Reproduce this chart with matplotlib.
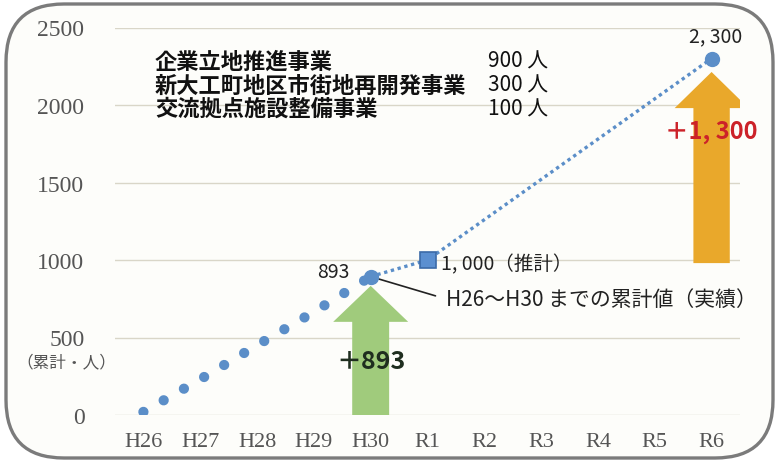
import matplotlib
matplotlib.use("Agg")
import matplotlib.pyplot as plt
from matplotlib.patches import FancyBboxPatch, FancyArrow
from matplotlib.transforms import IdentityTransform

plt.rcParams['font.family'] = ['Noto Sans CJK JP', 'DejaVu Sans']

# ---- data ----
years = ['H26', 'H27', 'H28', 'H29', 'H30', 'R1', 'R2', 'R3', 'R4', 'R5', 'R6']
actual_years = ['H26', 'H27', 'H28', 'H29', 'H30']
actual_values = [20, 230, 450, 665, 893]
plan_years = ['H30', 'R1', 'R6']
plan_values = [893, 1000, 2300]
projects = ['企業立地推進事業', '新大工町地区市街地再開発事業', '交流拠点施設整備事業']
project_people = [900, 300, 100]
y_ticks = [0, 500, 1000, 1500, 2000, 2500]
y_tick_labels = ['0', '500', '1000', '1500', '2000', '2500']

W, H = 776, 464
fig = plt.figure(figsize=(W / 100, H / 100), dpi=100)
fig.patch.set_facecolor('white')

# rounded frame
frame = FancyBboxPatch((6, 5), 767, 454, boxstyle="round,pad=0,rounding_size=58",
                       transform=IdentityTransform(), facecolor='#fdfdfa',
                       edgecolor='#7b7b7b', linewidth=2.4, zorder=-5)
fig.patches.append(frame)

ax = fig.add_axes([115 / W, 1 - 416 / H, (740 - 115) / W, (416 - 28.5) / H])
ax.set_facecolor('none')
for s in ax.spines.values():
    s.set_visible(False)

xi = {y: i for i, y in enumerate(years)}
ax_x = [xi[y] for y in actual_years]
pl_x = [xi[y] for y in plan_years]

ax.set_xlim(-0.5, len(years) - 0.5)
ax.set_ylim(0, 2500)
ax.set_yticks(y_ticks)
ax.set_yticklabels(y_tick_labels, family='Liberation Serif', fontsize=17, color='#555555')
ax.set_xticks(range(len(years)))
ax.set_xticklabels(years, family='Liberation Serif', fontsize=16, color='#555555')
ax.tick_params(axis='both', length=0)
ax.tick_params(axis='y', pad=22)
ax.tick_params(axis='x', pad=12)
ax.grid(axis='y', color='#d9d6c8', linewidth=1.0)
ax.set_axisbelow(True)

blue = '#5b8ec8'

# arrows
green_tip = actual_values[-1] - 60
ax.add_patch(FancyArrow(xi['H30'], 0, 0, green_tip, width=0.65, head_width=1.32,
                        head_length=232, length_includes_head=True,
                        color='#a0cb7c', zorder=2, linewidth=0))
orange_tip = plan_values[-1] - 87
orange_base = plan_values[1] - 20
ax.add_patch(FancyArrow(xi['R6'], orange_base, 0, orange_tip - orange_base, width=0.64,
                        head_width=1.3, head_length=233, length_includes_head=True,
                        color='#e9a82b', zorder=2, linewidth=0))

# actual line (big dots)
ax.plot(ax_x, actual_values, color=blue, linewidth=7.4, linestyle=(0, (0.001, 2.27)),
        dash_capstyle='round', zorder=3)
# plan line (small dots)
ax.plot(pl_x, plan_values, color=blue, linewidth=2.4, linestyle=(0, (1, 1.1)),
        dash_capstyle='butt', zorder=3)
ax.plot([xi['H30'], xi['R6']], [actual_values[-1], plan_values[-1]], 'o',
        color=blue, markersize=10, zorder=4)
ax.plot([xi['R1']], [plan_values[1]], 's', markerfacecolor='#5b8fd0',
        markeredgecolor='#3b6aa8', markeredgewidth=1.2, markersize=11, zorder=4)

# labels
ax.annotate(f"{actual_values[-1]}", (xi['H30'], actual_values[-1]), xytext=(-27, 4),
            textcoords='offset points', ha='center', va='center', fontsize=14,
            color='#222222')
ax.annotate(f"{plan_values[-1]:,}".replace(',', ', '), (xi['R6'], plan_values[-1]),
            xytext=(3, 16), textcoords='offset points', ha='center', va='center',
            fontsize=14, color='#222222')
ax.annotate(f"{plan_values[1]:,}".replace(',', ', ') + '（推計）', (xi['R1'], plan_values[1]),
            xytext=(10, -3), textcoords='offset points', ha='left', va='center',
            fontsize=14, color='#222222')
ax.annotate('H26～H30 までの累計値（実績）', (xi['H30'], actual_values[-1]),
            xytext=(5.33, 748), textcoords='data', ha='left', va='center',
            fontsize=15, color='#222222',
            arrowprops=dict(arrowstyle='-', color='#222222', lw=1.2,
                            relpos=(0, 0.5), shrinkA=6, shrinkB=6))

ax.text(xi['H30'], 350, f"＋{actual_values[-1]}", ha='center', va='center',
        fontsize=18, fontweight='bold', color='#1f2e1f', zorder=5)
ax.text(xi['R6'], 1832, f"＋{plan_values[-1] - plan_values[1]:,}".replace(',', ', '),
        ha='center', va='center', fontsize=17, fontweight='bold', color='#cc2229', zorder=5)

# project list
row_y = [0.914, 0.852, 0.792]
for name, n, yy in zip(projects, project_people, row_y):
    ax.text(0.064, yy, name, transform=ax.transAxes, ha='left', va='center',
            fontsize=16, fontweight='bold', color='#111111')
    ax.text(0.693, yy, f"{n} 人", transform=ax.transAxes, ha='right', va='center',
            fontsize=15, color='#111111')

ax.text(-0.078, 0.137, '（累計・人）', transform=ax.transAxes, ha='center', va='center',
        fontsize=12, color='#555555')

fig.savefig('out.png', dpi=100)
